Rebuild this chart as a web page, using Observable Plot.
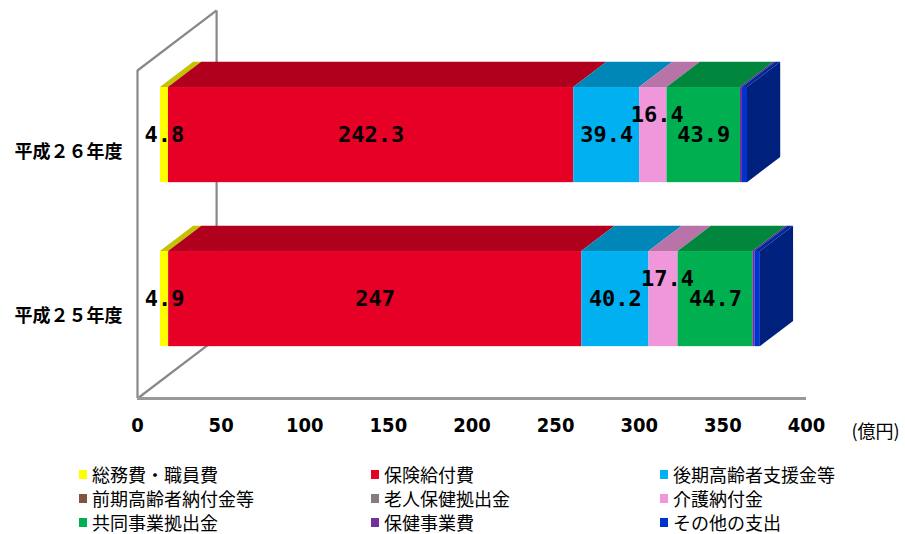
<!DOCTYPE html>
<html><head><meta charset="utf-8">
<script src="https://cdn.jsdelivr.net/npm/d3@7"></script>
<script src="https://cdn.jsdelivr.net/npm/@observablehq/plot@0.6"></script>
<style>
body{margin:0;background:#fff;width:905px;height:534px;overflow:hidden;font-family:"Noto Sans CJK JP",sans-serif;}
#legend{display:grid;grid-template-columns:292px 289px 245px;padding-left:79px;padding-top:17px;}
.item{display:flex;align-items:center;height:24px;line-height:20px;font-size:18px;color:#000;white-space:nowrap;}
.sw{width:8px;height:9px;margin-right:5px;flex:none;}
</style></head><body><div id="chart"></div><div id="legend"></div>
<script>
const years = ["平成２５年度", "平成２６年度"];
const categories = ["総務費・職員費","保険給付費","後期高齢者支援金等","前期高齢者納付金等","老人保健拠出金","介護納付金","共同事業拠出金","保健事業費","その他の支出"];
const colors = ["#FFFF00","#E60026","#00B0F0","#80543F","#867C7C","#F097DC","#00B050","#7030A0","#0033CC"];
const values25 = [4.9, 247, 40.2, 0, 0, 17.4, 44.7, 1.2, 3.3];
const values26 = [4.8, 242.3, 39.4, 0, 0, 16.4, 43.9, 1.2, 3.0];
const xTicks = [0, 50, 100, 150, 200, 250, 300, 350, 400];
const unitLabel = "(億円)";

// 3D geometry (data units)
const DX = 47.3, DY = 0.366, F0 = 0.29, F1 = 0.71, H = 0.29;
const series = [values25, values26];
const rows = [];
series.forEach((vals, yi) => {
  let s = 0;
  vals.forEach((v, i) => {
    rows.push({year: years[yi], yc: yi + 0.5, i, value: v, s0: s, s1: s + v, last: i === vals.length - 1});
    s += v;
  });
});
const shade = (c, k) => d3.color(c).darker(k).formatHex();

const front = rows.map(d => ({...d, x1: d.s0 + F0*DX, x2: d.s1 + F0*DX, y1: d.yc + F0*DY - H, y2: d.yc + F0*DY + H}));
const topFaces = rows.flatMap((d, k) => [
  {id: k, i: d.i, v: d.value, x1: d.s0 + F0*DX, x2: d.s1 + F0*DX, y: d.yc + F0*DY + H},
  {id: k, i: d.i, v: d.value, x1: d.s0 + F1*DX, x2: d.s1 + F1*DX, y: d.yc + F1*DY + H}
]).filter(d => d.v > 0);
const sideFaces = rows.filter(d => d.last).flatMap((d, k) => [
  {id: k, i: d.i, x: d.s1 + F0*DX, y1: d.yc + F0*DY - H, y2: d.yc + F0*DY + H},
  {id: k, i: d.i, x: d.s1 + F1*DX, y1: d.yc + F1*DY - H, y2: d.yc + F1*DY + H}
]);
const n = years.length;
const frameLinks = [
  {x1: 0, y1: n, x2: DX, y2: n + DY},
  {x1: DX, y1: DY, x2: DX, y2: n + DY},
  {x1: 0, y1: 0, x2: DX, y2: DY}
];
const labelRows = front.filter(d => d.value >= 4);

const chart = Plot.plot({
  width: 905, height: 445,
  marginLeft: 137, marginRight: 99, marginTop: 70, marginBottom: 47,
  x: {domain: [0, 400]},
  y: {domain: [0, n]},
  color: {type: "identity"},
  marks: [
    Plot.link(frameLinks, {x1: "x1", y1: "y1", x2: "x2", y2: "y2", stroke: "#888", strokeWidth: 2.2}),
    Plot.ruleX([0], {stroke: "#888", strokeWidth: 2.2}),
    Plot.ruleY([0], {stroke: "#999", strokeWidth: 3}),
    Plot.areaX(topFaces, {x1: "x1", x2: "x2", y: "y", z: "id", fill: d => shade(colors[d.i], 0.75)}),
    Plot.rect(front, {x1: "x1", x2: "x2", y1: "y1", y2: "y2", fill: d => colors[d.i]}),
    Plot.areaY(sideFaces, {x: "x", y1: "y1", y2: "y2", z: "id", fill: d => shade(colors[d.i], 1.35)}),
    Plot.text(labelRows.filter(d => d.i !== 5), {x: d => (d.x1 + d.x2)/2, y: d => (d.y1 + d.y2)/2, text: d => String(d.value), fontSize: 22, fontFamily: "DejaVu Sans Mono", fontWeight: "bold", fill: "#000"}),
    Plot.text(labelRows.filter(d => d.i === 5), {x: d => (d.x1 + d.x2)/2, y: d => (d.y1 + d.y2)/2, text: d => String(d.value), fontSize: 22, fontFamily: "DejaVu Sans Mono", fontWeight: "bold", fill: "#000", dx: 4, dy: -20}),
    Plot.axisX({ticks: xTicks, tickSize: 0, tickPadding: 19, fontSize: 20, fontWeight: "bold", fontFamily: "'Liberation Sans Narrow','DejaVu Sans Condensed',sans-serif", label: null, fill: "#000"}),
    Plot.axisY({ticks: years.map((_, i) => i + 0.5), tickFormat: v => years[Math.floor(v)], tickSize: 0, tickPadding: 15, fontSize: 18, fontWeight: "bold", fontFamily: "'Noto Sans CJK JP',sans-serif", label: null, fill: "#000"}),
    Plot.text([unitLabel], {frameAnchor: "bottom-right", dx: 45, dy: 39, textAnchor: "start", fontSize: 18, fontFamily: "'Noto Sans CJK JP',sans-serif", fill: "#000"})
  ]
});
document.getElementById("chart").appendChild(chart);

const legend = document.getElementById("legend");
categories.forEach((c, i) => {
  const it = document.createElement("div");
  it.className = "item";
  const sw = document.createElement("span");
  sw.className = "sw"; sw.style.background = colors[i];
  const tx = document.createElement("span");
  tx.textContent = c;
  it.appendChild(sw); it.appendChild(tx);
  legend.appendChild(it);
});
</script></body></html>
